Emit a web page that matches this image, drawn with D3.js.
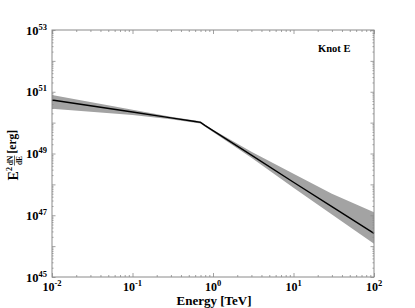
<!DOCTYPE html>
<html lang="en">
<head>
<meta charset="UTF-8">
<title>Knot E spectrum</title>
<script src="https://d3js.org/d3.v7.min.js"></script>
<style>
    body { margin: 0; background: #fff; }
    text { font-family: "Liberation Serif", "DejaVu Serif", serif; font-weight: bold; fill: #000; }
</style>
</head>
<body>
<div id="chart"></div>
<script>
// Spectrum values (energy in TeV, E^2 dN/dE in erg)
const energies    = [0.01,   0.1,    0.3,     0.6,     0.7,     0.8,    1,      3,      10,     30,     100];
const fluxCentral = [5.4e50, 2.2e50, 1.42e50, 1.09e50, 1.02e50, 8.0e49, 5.5e49, 8.9e48, 1.17e48, 1.9e47, 2.6e46];
const fluxUpper   = [7.8e50, 2.6e50, 1.55e50, 1.17e50, 1.1e50,  8.6e49, 5.9e49, 1.15e49, 2.2e48, 5.0e47, 1.26e47];
const fluxLower   = [2.8e50, 1.75e50, 1.28e50, 1.0e50, 9.4e49,  7.3e49, 5.0e49, 7.3e48, 7.8e47, 1.05e47, 1.2e46];

const xTickExps = [-2, -1, 0, 1, 2];
const yTickExps = [45, 47, 49, 51, 53];
const label = "Knot E";

const W = 415, H = 308;
const margin = { top: 30, right: 41, bottom: 31, left: 52 };
const width = W - margin.left - margin.right;
const height = H - margin.top - margin.bottom;

const svg = d3.select("#chart").append("svg")
    .attr("width", W).attr("height", H);
const g = svg.append("g").attr("transform", `translate(${margin.left},${margin.top})`);

const x = d3.scaleLog().domain([1e-2, 1e2]).range([0, width]);
const y = d3.scaleLog().domain([1e45, 1e53]).range([height, 0]);

const pts = energies.map((e, i) => ({ e, c: fluxCentral[i], lo: fluxLower[i], hi: fluxUpper[i] }));

// error band
g.append("path")
    .datum(pts)
    .attr("fill", "#a3a3a3")
    .attr("d", d3.area().x(d => x(d.e)).y0(d => y(d.lo)).y1(d => y(d.hi)));

// central line
g.append("path")
    .datum(pts)
    .attr("fill", "none")
    .attr("stroke", "#000")
    .attr("stroke-width", 1.4)
    .attr("d", d3.line().x(d => x(d.e)).y(d => y(d.c)));

// ticks: major + minor, inside, on all four sides
const axisColor = "#8a8a8a";
const xMinor = [], yMinor = [];
for (let p = -2; p < 2; p++) for (let k = 2; k <= 9; k++) xMinor.push(k * Math.pow(10, p));
for (let p = 45; p < 53; p++) for (let k = 2; k <= 9; k++) yMinor.push(k * Math.pow(10, p));
const xMajor = xTickExps.map(p => Math.pow(10, p));
const yMajor = d3.range(45, 54).map(p => Math.pow(10, p));

function tickAxis(axisFn, scale, vals, size, transform) {
    const a = g.append("g").attr("transform", transform)
        .call(axisFn(scale).tickValues(vals).tickSize(size).tickFormat(""));
    a.select(".domain").remove();
    a.selectAll("line").attr("stroke", axisColor).attr("stroke-width", 0.8);
}
tickAxis(d3.axisTop, x, xMinor, 2, `translate(0,${height})`);
tickAxis(d3.axisTop, x, xMajor, 4, `translate(0,${height})`);
tickAxis(d3.axisBottom, x, xMinor, 2, "translate(0,0)");
tickAxis(d3.axisBottom, x, xMajor, 4, "translate(0,0)");
tickAxis(d3.axisRight, y, yMinor, 1.5, "translate(0,0)");
tickAxis(d3.axisRight, y, yMajor, 3.5, "translate(0,0)");
tickAxis(d3.axisLeft, y, yMinor, 1.5, `translate(${width},0)`);
tickAxis(d3.axisLeft, y, yMajor, 3.5, `translate(${width},0)`);

// frame
g.append("rect")
    .attr("width", width).attr("height", height)
    .attr("fill", "none").attr("stroke", axisColor).attr("stroke-width", 1);

// tick labels
xTickExps.forEach(p => {
    const t = g.append("text")
        .attr("x", x(Math.pow(10, p)))
        .attr("y", height + 13.5)
        .attr("text-anchor", "middle")
        .style("font-size", "12px");
    t.append("tspan").text("10");
    t.append("tspan").attr("dy", -5).style("font-size", "8.5px").text(p);
});
yTickExps.forEach(p => {
    const t = g.append("text")
        .attr("x", -5)
        .attr("y", y(Math.pow(10, p)) + 4.5)
        .attr("text-anchor", "end")
        .style("font-size", "12.5px");
    t.append("tspan").text("10");
    t.append("tspan").attr("dy", -5).style("font-size", "8.5px").text(p);
});

// x axis title
g.append("text")
    .attr("x", width / 2 + 1)
    .attr("y", height + 27.5)
    .attr("text-anchor", "middle")
    .style("font-size", "13px")
    .text("Energy [TeV]");

// y axis title: E^2 dN/dE [erg]
const yl = svg.append("g")
    .attr("transform", `translate(18,${margin.top + height / 2}) rotate(-90)`);
yl.append("text").attr("x", -27).attr("y", 0).style("font-size", "14px").text("E");
yl.append("text").attr("x", -17.5).attr("y", -6).style("font-size", "8px").text("2");
yl.append("text").attr("x", -7).attr("y", -5).attr("text-anchor", "middle").style("font-size", "7.5px").text("dN");
yl.append("line").attr("x1", -12).attr("x2", -2).attr("y1", -3.5).attr("y2", -3.5)
    .attr("stroke", "#000").attr("stroke-width", 0.6);
yl.append("text").attr("x", -7).attr("y", 3.5).attr("text-anchor", "middle").style("font-size", "7.5px").text("dE");
yl.append("text").attr("x", 0).attr("y", -2).style("font-size", "11.5px").text("[erg]");

// panel label
g.append("text")
    .attr("x", 266)
    .attr("y", 22)
    .style("font-size", "10.5px")
    .text(label);
</script>
</body>
</html>
